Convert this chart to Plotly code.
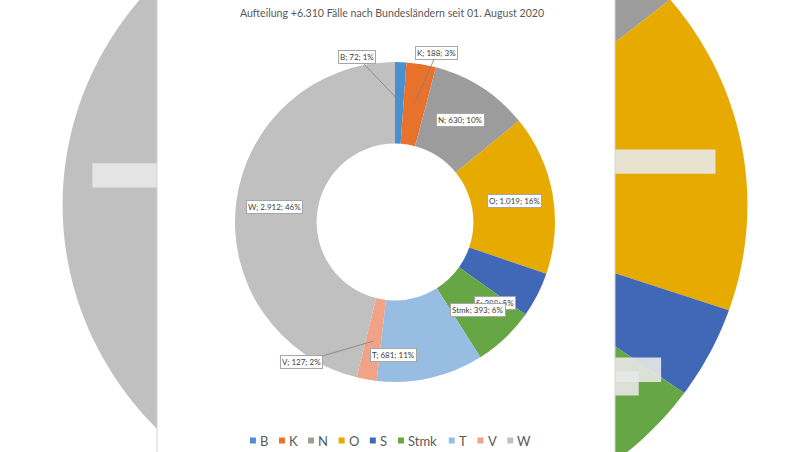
import numpy as np
import plotly.graph_objects as go

# ---------------- data ----------------
title_text = "Aufteilung +6.310 Fälle nach Bundesländern seit 01. August 2020"
categories = ["B", "K", "N", "O", "S", "Stmk", "T", "V", "W"]
cases = [72, 188, 630, 1019, 288, 393, 681, 127, 2912]
colors = ["#4a8fcf", "#e8722b", "#9c9c9c", "#e6aa00", "#4068b6",
          "#66a644", "#98bde3", "#f1a387", "#c0c0c0"]

# ---------------- geometry (pixels) ----------------
W, H = 800, 452
CX, CY, R = 395, 222, 160
HOLE = 0.49
LABEL_R = 121
PANEL_X0, PANEL_X1 = 157, 615
# blurred, magnified backdrop of the chart
BG_CX, BG_CY, BG_SX, BG_SY = 405, 205, 2.14, 2.03


def px(x):
    return x / W


def py(y):
    return 1 - y / H


total = sum(cases)
frac = np.array(cases, dtype=float) / total
start = np.concatenate([[0.0], np.cumsum(frac)[:-1]])
mid_deg = (start + frac / 2) * 360


def fmt(v):
    return f"{v:,}".replace(",", ".")


label_txt = [f"{c}; {fmt(v)}; {round(v * 100 / total)}%" for c, v in zip(categories, cases)]

# label placement: ("in", xshift, yshift) or ("out", ax, ay)
placement = {"B": ("out", -42, -44), "K": ("out", 22, -50), "V": ("out", -72, 21),
             "S": ("in", -8, 26), "T": ("in", -28, 15)}

shapes = []
annotations = []

# ---- backdrop wedges (magnified copy of the doughnut) ----
for s, f, col in zip(start, frac, colors):
    th = np.radians(np.linspace(s * 360, (s + f) * 360, max(4, int(f * 400))))
    xs = BG_CX + BG_SX * R * np.sin(th)
    ys = BG_CY - BG_SY * R * np.cos(th)
    path = f"M{px(BG_CX):.5f},{py(BG_CY):.5f}"
    for x, y in zip(xs, ys):
        path += f" L{px(x):.5f},{py(y):.5f}"
    path += " Z"
    shapes.append(dict(type="path", xref="paper", yref="paper", path=path,
                       fillcolor=col, line=dict(width=0), layer="below"))

# blurred backdrop copies of the data labels
for c, txt, ang in zip(categories, label_txt, mid_deg):
    mode, dx, dy = placement.get(c, ("in", 0, 0))
    a = np.radians(ang)
    lx = CX + LABEL_R * np.sin(a) + dx
    ly = CY - LABEL_R * np.cos(a) + dy
    bx = BG_CX + BG_SX * (lx - CX)
    by = BG_CY + BG_SY * (ly - CY)
    hw = len(txt) * 2.0 * BG_SX
    hh = 6 * BG_SY
    shapes.append(dict(type="rect", xref="paper", yref="paper",
                       x0=px(bx - hw), x1=px(bx + hw), y0=py(by + hh), y1=py(by - hh),
                       fillcolor="rgba(232,232,232,0.9)", line=dict(width=0), layer="below"))

# white centre panel
shapes.append(dict(type="rect", xref="paper", yref="paper", x0=px(PANEL_X0), x1=px(PANEL_X1),
                   y0=0, y1=1, fillcolor="white", line=dict(width=0), layer="below"))
for xe in (PANEL_X0, PANEL_X1):
    shapes.append(dict(type="line", xref="paper", yref="paper", x0=px(xe), x1=px(xe),
                       y0=0, y1=1, line=dict(color="#d4d4d4", width=1), layer="below"))

# ---- data labels ----
for c, txt, ang in zip(categories, label_txt, mid_deg):
    mode, dx, dy = placement.get(c, ("in", 0, 0))
    a = np.radians(ang)
    x = CX + LABEL_R * np.sin(a)
    y = CY - LABEL_R * np.cos(a)
    common = dict(xref="paper", yref="paper", x=px(x), y=py(y), text=txt,
                  xanchor="center", yanchor="middle",
                  font=dict(family="Lato", size=8, color="#404040"),
                  bgcolor="white", bordercolor="#a6a6a6", borderwidth=1, borderpad=1)
    if mode == "out":
        annotations.append(dict(**common, showarrow=True, ax=dx, ay=dy, arrowhead=0,
                                arrowwidth=0.8, arrowcolor="#808080", standoff=0))
    else:
        annotations.append(dict(**common, showarrow=False, xshift=dx, yshift=-dy))

# ---- legend (manual, compact Excel style) ----
em = {"B": .62, "K": .62, "N": .74, "O": .78, "S": .55, "t": .36, "m": .86,
      "k": .52, "T": .6, "V": .68, "W": .98}
LEG_FONT = 13
LEG_Y = 440.5
widths = [sum(em.get(ch, .6) for ch in c) * LEG_FONT for c in categories]
pitches = [8 + w + 13 for w in widths]
total_w = sum(pitches) - 13
x0 = 389 - total_w / 2
for c, col, w, p in zip(categories, colors, widths, pitches):
    shapes.append(dict(type="rect", xref="paper", yref="paper",
                       x0=px(x0), x1=px(x0 + 6), y0=py(LEG_Y + 3), y1=py(LEG_Y - 3),
                       fillcolor=col, line=dict(width=0), layer="above"))
    annotations.append(dict(xref="paper", yref="paper", x=px(x0 + 8), y=py(LEG_Y),
                            xanchor="left", yanchor="middle", showarrow=False, text=c,
                            font=dict(family="Lato", size=LEG_FONT, color="#595959")))
    x0 += p

fig = go.Figure(go.Pie(
    labels=categories, values=cases, sort=False, direction="clockwise", rotation=0,
    hole=HOLE, marker=dict(colors=colors, line=dict(width=0)),
    textinfo="none", showlegend=False,
    domain=dict(x=[px(CX - R), px(CX + R)], y=[py(CY + R), py(CY - R)]),
))

fig.update_layout(
    width=W, height=H, margin=dict(l=0, r=0, t=0, b=0),
    paper_bgcolor="white", plot_bgcolor="white",
    title=dict(text=title_text, x=392 / W, xanchor="center", y=py(13), yanchor="middle",
               font=dict(family="Lato", size=10.6, color="#595959")),
    shapes=shapes, annotations=annotations,
)

fig.write_html("out.html", config={"displayModeBar": False},
               post_script="document.body.style.margin='0';document.body.style.overflow='hidden';")
